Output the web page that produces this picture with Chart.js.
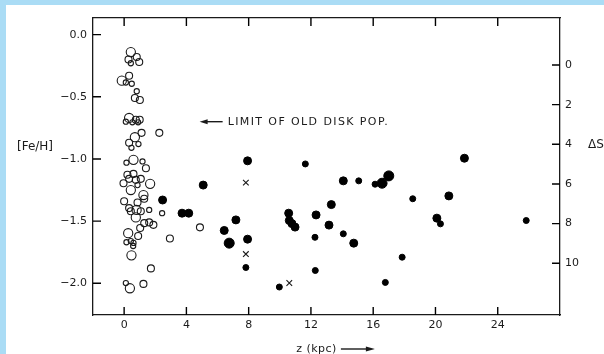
<!DOCTYPE html>
<html>
<head>
<meta charset="utf-8">
<script src="https://cdn.jsdelivr.net/npm/chart.js@4.4.1/dist/chart.umd.min.js"></script>
<style>
  html, body { margin: 0; padding: 0; background: #aadcf5; }
  #wrap { position: absolute; left: 6px; top: 5px; width: 598px; height: 349px; background: #fff; }
</style>
</head>
<body>
<div id="wrap"><canvas id="feChart" width="598" height="349"></canvas></div>
<script>
// open circles: halo stars near the plane (z in kpc, [Fe/H], size class 1..3)
const openZ = [0.43, 0.28, 0.81, 0.97, 0.43, -0.15, 0.32, 0.11, 0.49, 0.81, 0.69, 1.01,
  0.32, 0.11, 0.75, 1.0, 0.53, 0.9, 2.26, 1.12, 0.69, 0.32, 0.92, 0.47,
  0.6, 0.15, 1.18, 1.4, 0.21, 0.6, -0.04, 0.32, 0.75, 1.07, 1.67, 0.86,
  0.43, 1.24, 0.0, 0.86, 1.29, 0.32, 0.8, 1.61, 2.44, 0.43, 0.75, 1.07,
  1.29, 1.61, 1.88, 1.03, 0.26, 0.9, 0.15, 0.43, 0.6, 0.58, 2.94, 0.47,
  1.72, 0.11, 0.37, 1.24, 4.87];
const openFe = [-0.14, -0.20, -0.18, -0.22, -0.23, -0.37, -0.33, -0.385, -0.395, -0.455, -0.51, -0.525,
  -0.67, -0.70, -0.685, -0.685, -0.705, -0.705, -0.79, -0.79, -0.825, -0.87, -0.88, -0.91,
  -1.007, -1.03, -1.02, -1.075, -1.127, -1.12, -1.195, -1.16, -1.168, -1.16, -1.2, -1.21,
  -1.25, -1.29, -1.34, -1.35, -1.32, -1.395, -1.41, -1.41, -1.436, -1.42, -1.47, -1.42,
  -1.516, -1.51, -1.53, -1.555, -1.597, -1.62, -1.67, -1.66, -1.675, -1.70, -1.64, -1.775,
  -1.88, -1.998, -2.04, -2.005, -1.55];
const openSize = [3, 2, 2, 2, 1, 3, 2, 1, 1, 1, 2, 2,
  3, 1, 2, 2, 1, 1, 2, 2, 3, 2, 1, 1,
  3, 1, 1, 2, 2, 2, 2, 2, 2, 2, 3, 1,
  3, 3, 2, 2, 2, 2, 3, 1, 1, 2, 3, 2,
  2, 2, 2, 2, 3, 2, 1, 1, 1, 1, 2, 3,
  2, 1, 3, 2, 2];

// filled circles: distant halo objects
const filledZ = [2.47, 3.72, 4.15, 5.08, 6.43, 7.18, 6.75, 7.93, 7.93, 7.82, 9.97, 11.64,
  10.57, 10.61, 10.78, 10.98, 12.33, 13.31, 13.16, 12.26, 14.08, 15.07, 14.08, 14.75,
  12.28, 16.12, 16.57, 17.0, 16.78, 21.86, 18.54, 20.86, 20.09, 20.32, 25.83, 17.86];
const filledFe = [-1.33, -1.436, -1.436, -1.21, -1.575, -1.49, -1.677, -1.015, -1.645, -1.873, -2.03, -1.04,
  -1.436, -1.495, -1.52, -1.548, -1.45, -1.367, -1.532, -1.63, -1.176, -1.176, -1.602, -1.677,
  -1.897, -1.203, -1.195, -1.136, -1.993, -0.994, -1.32, -1.297, -1.476, -1.522, -1.495, -1.79];
const filledSize = [2, 2, 2, 2, 2, 2, 3, 2, 2, 1, 1, 1,
  2, 2, 2, 2, 2, 2, 2, 1, 2, 1, 1, 2,
  1, 1, 3, 3, 1, 2, 1, 2, 2, 1, 1, 1];

// crosses
const crossZ = [7.82, 7.82, 10.61];
const crossFe = [-1.19, -1.765, -1.998];

const zTicks = [0, 4, 8, 12, 16, 20, 24];
const feTicks = [0, -0.5, -1.0, -1.5, -2.0];
const dsTicks = [0, 2, 4, 6, 8, 10];

const ink = '#1a1a1a';
const openR = { 1: 2.6, 2: 3.5, 3: 4.6 };
const filledR = { 1: 3, 2: 4, 3: 5 };

Chart.defaults.font.family = 'DejaVu Sans';
Chart.defaults.font.size = 11;
Chart.defaults.color = ink;

const toPts = (xs, ys) => xs.map((x, i) => ({ x: x, y: ys[i] }));
const setTicks = vals => scale => { scale.ticks = vals.map(v => ({ value: v })); };
const fmtFe = v => (v < 0 ? '\u2212' : '') + Math.abs(v).toFixed(1);

const gridOpts = { display: false, drawTicks: false };
const borderOpts = { display: true, color: ink, width: 1.3 };

// tick marks pointing into the frame
const inTicks = {
  id: 'inTicks',
  afterDatasetsDraw(chart) {
    const ctx = chart.ctx;
    const a = chart.chartArea;
    const sx = chart.scales.x, sy = chart.scales.y, sd = chart.scales.y1;
    const len = 8;
    ctx.save();
    ctx.strokeStyle = '#000';
    ctx.lineWidth = 1.4;
    ctx.beginPath();
    zTicks.forEach(v => {
      const px = sx.getPixelForValue(v);
      ctx.moveTo(px, a.bottom); ctx.lineTo(px, a.bottom - len);
      ctx.moveTo(px, a.top); ctx.lineTo(px, a.top + len);
    });
    feTicks.forEach(v => {
      const py = sy.getPixelForValue(v);
      ctx.moveTo(a.left, py); ctx.lineTo(a.left + len, py);
    });
    dsTicks.forEach(v => {
      const py = sd.getPixelForValue(v);
      ctx.moveTo(a.right, py); ctx.lineTo(a.right - len, py);
    });
    ctx.stroke();
    ctx.restore();
  }
};

const notes = {
  id: 'notes',
  afterDraw(chart) {
    const { ctx, chartArea, scales } = chart;
    ctx.save();
    ctx.fillStyle = ink;
    ctx.strokeStyle = ink;
    ctx.font = '12px "DejaVu Sans"';
    ctx.textBaseline = 'middle';

    // [Fe/H] label
    ctx.textAlign = 'center';
    ctx.fillText('[Fe/H]', chartArea.left - 58, scales.y.getPixelForValue(-0.9));
    // ΔS label
    ctx.fillText('\u0394S', chartArea.right + 36, scales.y1.getPixelForValue(4) + 1);

    // limit of old disk arrow
    const ax = scales.x.getPixelForValue(4.85);
    const ay = scales.y.getPixelForValue(-0.70);
    ctx.lineWidth = 1.4;
    ctx.beginPath();
    ctx.moveTo(ax + 5, ay);
    ctx.lineTo(ax + 23, ay);
    ctx.stroke();
    ctx.beginPath();
    ctx.moveTo(ax, ay);
    ctx.lineTo(ax + 8, ay - 2.5);
    ctx.lineTo(ax + 8, ay + 2.5);
    ctx.closePath();
    ctx.fill();
    ctx.textAlign = 'left';
    ctx.font = '11px "DejaVu Sans"';
    ctx.letterSpacing = '1.4px';
    ctx.fillText('LIMIT OF OLD DISK POP.', ax + 28, ay);

    // z (kpc) caption
    ctx.letterSpacing = '0.5px';
    const tx = scales.x.getPixelForValue(11.05);
    const ty = chart.height - 5;
    ctx.fillText('z (kpc)', tx, ty);
    const w = ctx.measureText('z (kpc)').width;
    ctx.beginPath();
    ctx.moveTo(tx + w + 4, ty);
    ctx.lineTo(tx + w + 30, ty);
    ctx.stroke();
    ctx.beginPath();
    ctx.moveTo(tx + w + 38, ty);
    ctx.lineTo(tx + w + 29, ty - 2.5);
    ctx.lineTo(tx + w + 29, ty + 2.5);
    ctx.closePath();
    ctx.fill();
    ctx.restore();
  }
};

new Chart(document.getElementById('feChart'), {
  type: 'scatter',
  data: {
    datasets: [
      {
        label: 'open',
        data: toPts(openZ, openFe),
        pointStyle: 'circle',
        backgroundColor: 'rgba(0,0,0,0)',
        borderColor: ink,
        borderWidth: 1.1,
        pointRadius: c => openR[openSize[c.dataIndex]]
      },
      {
        label: 'filled',
        data: toPts(filledZ, filledFe),
        pointStyle: 'circle',
        backgroundColor: '#000',
        borderColor: '#000',
        borderWidth: 1,
        pointRadius: c => filledR[filledSize[c.dataIndex]]
      },
      {
        label: 'cross',
        data: toPts(crossZ, crossFe),
        pointStyle: 'crossRot',
        borderColor: ink,
        borderWidth: 1.1,
        pointRadius: 4
      }
    ]
  },
  options: {
    responsive: false,
    animation: false,
    events: [],
    layout: { padding: 0 },
    plugins: { legend: { display: false }, tooltip: { enabled: false } },
    scales: {
      x: {
        type: 'linear', position: 'bottom', min: -2, max: 28,
        afterBuildTicks: setTicks(zTicks),
        afterFit: s => { s.height = 39; },
        grid: gridOpts, border: borderOpts,
        ticks: { padding: 4, maxRotation: 0, font: { size: 11 } }
      },
      x2: {
        type: 'linear', position: 'top', min: -2, max: 28,
        afterBuildTicks: setTicks(zTicks),
        afterFit: s => { s.height = 13; },
        grid: gridOpts, border: borderOpts,
        ticks: { display: false }
      },
      y: {
        type: 'linear', position: 'left', min: -2.255, max: 0.134,
        afterBuildTicks: setTicks(feTicks),
        afterFit: s => { s.width = 87; },
        grid: gridOpts, border: borderOpts,
        ticks: { padding: 6, callback: v => fmtFe(v) }
      },
      y1: {
        type: 'linear', position: 'right', reverse: true, min: -2.37, max: 12.61,
        afterBuildTicks: setTicks(dsTicks),
        afterFit: s => { s.width = 44; },
        grid: gridOpts, border: borderOpts,
        ticks: { padding: 5 }
      }
    }
  },
  plugins: [inTicks, notes]
});
</script>
</body>
</html>
